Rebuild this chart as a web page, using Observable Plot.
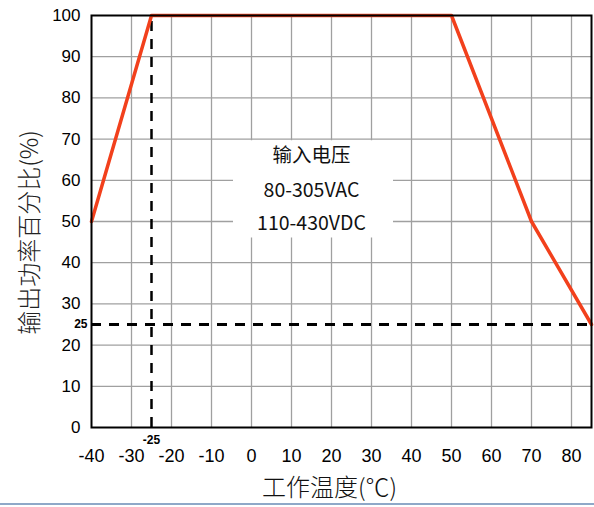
<!DOCTYPE html>
<html><head><meta charset="utf-8">
<script src="https://cdn.jsdelivr.net/npm/d3@7"></script>
<script src="https://cdn.jsdelivr.net/npm/@observablehq/plot@0.6"></script>
<style>
html,body{margin:0;padding:0;background:#fff;}
#chart{width:594px;height:507px;position:relative;overflow:hidden;}
#chart svg{display:block;}
.bar{position:absolute;left:0;top:503px;width:594px;height:2px;background:#8FA8C8;}
</style></head><body>
<div id="chart"><div class="bar"></div></div>
<script>
const temps = [-40, -25, 50, 70, 85];
const loads = [50, 100, 100, 50, 25];
const xTicks = [-40, -30, -20, -10, 0, 10, 20, 30, 40, 50, 60, 70, 80];
const yTicks = [0, 10, 20, 30, 40, 50, 60, 70, 80, 90, 100];
const xGrid = [-30, -20, -10, 0, 10, 20, 30, 40, 50, 60, 70, 80];
const yGrid = [10, 20, 30, 40, 50, 60, 70, 80, 90];
const markTemp = [-25];
const markLoad = [25];
const noteLines = ["输入电压", "80-305VAC", "110-430VDC"];
const noteY = [66, 57.5, 49.5];
const noteX = 15;
const boxX = [-4.5, 35.5];
const boxY = [46, 69.6];
const xTitle = "工作温度(℃)";
const yTitle = "输出功率百分比(%)";

const curve = temps.map((t, i) => ({t, l: loads[i]}));
const box = [{x1: boxX[0], x2: boxX[1], y1: boxY[0], y2: boxY[1]}];

const chart = Plot.plot({
  width: 594, height: 507,
  marginLeft: 91, marginRight: 3, marginTop: 15, marginBottom: 80,
  x: {domain: [-40, 85]},
  y: {domain: [0, 100]},
  style: {fontFamily: "'Liberation Sans', Arial, 'Noto Sans CJK SC', sans-serif", fontSize: "17px", color: "#000", background: "transparent", overflow: "visible"},
  marks: [
    Plot.ruleX(xGrid, {stroke: "#a0a0a0", strokeWidth: 1.3}),
    Plot.ruleY(yGrid, {stroke: "#a0a0a0", strokeWidth: 1.3}),
    Plot.rect(box, {x1: "x1", x2: "x2", y1: "y1", y2: "y2", fill: "white"}),
    Plot.text(noteLines, {x: noteX, y: (d, i) => noteY[i], text: d => d, fontSize: 19.5, fill: "#111",
      fontFamily: "'Noto Sans CJK SC', sans-serif", textAnchor: "middle", lineAnchor: "middle"}),
    Plot.ruleX(markTemp, {y1: 0, y2: 100, stroke: "#000", strokeWidth: 2.5, strokeDasharray: "10,8"}),
    Plot.ruleY(markLoad, {x1: -40, x2: 85, stroke: "#000", strokeWidth: 3, strokeDasharray: "10,8"}),
    Plot.line(curve, {x: "t", y: "l", stroke: "#F2401C", strokeWidth: 3.5}),
    Plot.frame({stroke: "#000", strokeWidth: 2}),
    Plot.axisX(xTicks, {tickSize: 0, tickPadding: 22, fontSize: 18, label: null, tickFormat: d => String(d)}),
    Plot.axisY(yTicks, {tickSize: 0, tickPadding: 11, fontSize: 17, label: null, tickFormat: d => String(d)}),
    Plot.text(markTemp, {x: d => d, y: 0, dy: 8, lineAnchor: "top", textAnchor: "middle", text: d => String(d), fontWeight: "bold", fontSize: 12}),
    Plot.text(markLoad, {x: -40, y: d => d, dx: -4, textAnchor: "end", lineAnchor: "middle", text: d => String(d), fontWeight: "bold", fontSize: 12}),
    Plot.text([yTitle], {frameAnchor: "left", dx: -61, dy: 11, rotate: -90, textAnchor: "middle", lineAnchor: "middle", text: d => d, fontSize: 24, fill: "#222",
      fontFamily: "'Noto Sans CJK SC', sans-serif", fontWeight: 300}),
    Plot.text([xTitle], {frameAnchor: "bottom", dx: -12, dy: 61, textAnchor: "middle", lineAnchor: "middle", text: d => d, fontSize: 24, fill: "#111",
      fontFamily: "'Noto Sans CJK SC', sans-serif", fontWeight: 300})
  ]
});
document.getElementById("chart").prepend(chart);
</script>
</body></html>
